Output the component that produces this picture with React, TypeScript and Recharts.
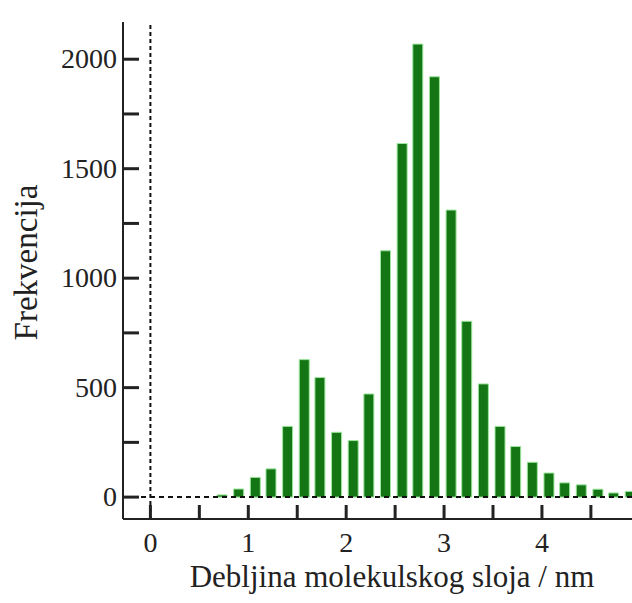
import React from "react";
import { BarChart, Bar, XAxis, YAxis, ReferenceLine } from "recharts";

// bin centres (nm) and counts
const thickness = [
  0.73, 0.9, 1.07, 1.23, 1.4, 1.57, 1.73, 1.9, 2.07, 2.23, 2.4, 2.57, 2.73,
  2.9, 3.07, 3.23, 3.4, 3.57, 3.73, 3.9, 4.07, 4.23, 4.4, 4.57, 4.73, 4.9,
];
const counts = [
  10, 37, 90, 129, 323, 628, 546, 296, 258, 471, 1125, 1615, 2069, 1920, 1311,
  803, 517, 323, 231, 159, 110, 65, 56, 36, 19, 26,
];
const xTicks = [0, 0.5, 1, 1.5, 2, 2.5, 3, 3.5, 4, 4.5];
const yTicks = [0, 250, 500, 750, 1000, 1250, 1500, 1750, 2000];

const data = thickness.map((t, i) => ({ t, n: counts[i] }));

const X_DOMAIN: [number, number] = [-0.28, 4.92];
const Y_DOMAIN: [number, number] = [-100, 2170];
const FONT = "Liberation Serif, Times New Roman, serif";
const INK = "#222";

// labels only on the whole numbers / multiples of 500
const renderXTick = (props: any) => {
  const v = props.payload.value;
  if (!Number.isInteger(v)) return <g />;
  return (
    <text x={props.x} y={Number(props.y) + 19} textAnchor="middle" fontFamily={FONT} fontSize={28} fill={INK}>
      {v}
    </text>
  );
};

const renderYTick = (props: any) => {
  const v = props.payload.value;
  if (v % 500 !== 0) return <g />;
  return (
    <text x={props.x} y={Number(props.y) + 9} textAnchor="end" fontFamily={FONT} fontSize={28} fill={INK}>
      {v}
    </text>
  );
};

const App: React.FC = () => {
  return (
    <div
      style={{
        position: "absolute",
        left: 0,
        top: 0,
        width: 632,
        height: 603,
        background: "#fff",
        fontFamily: FONT,
        color: INK,
      }}
    >
      <BarChart
        width={632}
        height={603}
        data={data}
        margin={{ top: 22, right: 0, left: 0, bottom: 0 }}
      >
        <XAxis
          dataKey="t"
          type="number"
          domain={X_DOMAIN}
          allowDataOverflow
          ticks={xTicks}
          interval={0}
          height={84}
          tickSize={-14}
          tickMargin={28}
          tick={renderXTick}
          tickLine={{ stroke: INK, strokeWidth: 3 }}
          axisLine={{ stroke: INK, strokeWidth: 2 }}
        />
        <YAxis
          type="number"
          domain={Y_DOMAIN}
          allowDataOverflow
          ticks={yTicks}
          interval={0}
          width={123}
          tickSize={-16}
          tickMargin={22}
          tick={renderYTick}
          tickLine={{ stroke: INK, strokeWidth: 3 }}
          axisLine={{ stroke: INK, strokeWidth: 2 }}
        />
        <Bar
          dataKey="n"
          barSize={10}
          fill="#147514"
          stroke="#9be69b"
          strokeWidth={1}
          isAnimationActive={false}
        />
        <ReferenceLine x={0} stroke="#111" strokeWidth={2} strokeDasharray="4 3" />
        <ReferenceLine y={0} stroke="#111" strokeWidth={2} strokeDasharray="5 4" />
      </BarChart>
      <div
        style={{
          position: "absolute",
          left: 92,
          top: 561,
          width: 600,
          fontSize: 31,
          lineHeight: "31px",
          textAlign: "center",
          whiteSpace: "nowrap",
        }}
      >
        Debljina molekulskog sloja / nm
      </div>
      <div
        style={{
          position: "absolute",
          left: 26 - 150,
          top: 262 - 16.5,
          width: 300,
          height: 33,
          fontSize: 33,
          lineHeight: "33px",
          textAlign: "center",
          whiteSpace: "nowrap",
          transform: "rotate(-90deg)",
        }}
      >
        Frekvencija
      </div>
    </div>
  );
};

export default App;
